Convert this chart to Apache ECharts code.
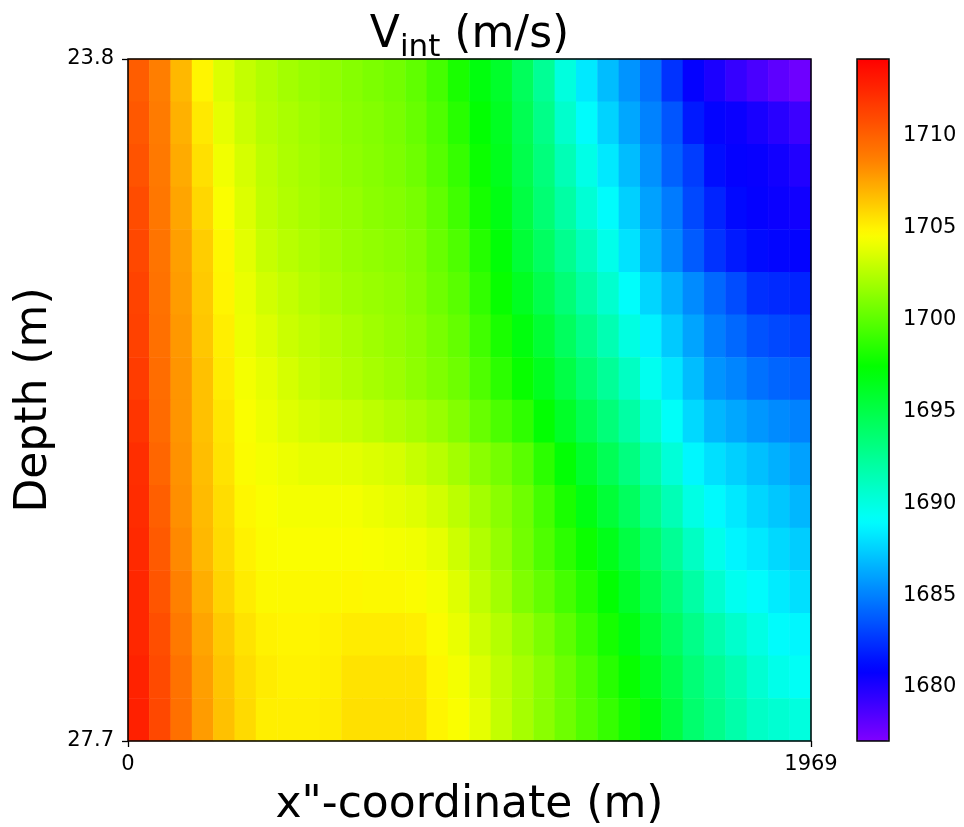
<!DOCTYPE html>
<html>
<head>
<meta charset="utf-8">
<title>Vint</title>
<script src="https://cdn.jsdelivr.net/npm/echarts@6/dist/echarts.min.js"></script>
<style>
html, body { margin: 0; padding: 0; background: #fff; }
#main { width: 964px; height: 827px; }
</style>
</head>
<body>
<div id="main"></div>
<script>
// cell centres (m)
var xCells = [31, 92, 154, 215, 277, 338, 400, 462, 523, 585, 646, 708, 769, 831, 892, 954,
  1015, 1077, 1138, 1200, 1261, 1323, 1384, 1446, 1508, 1569, 1631, 1692, 1754, 1815, 1877, 1938];
var depthCells = [23.92, 24.17, 24.41, 24.65, 24.90, 25.14, 25.38, 25.63,
  25.87, 26.11, 26.36, 26.60, 26.84, 27.09, 27.33, 27.58];

// interval velocity (m/s), one row per depth, top to bottom
var vRows = [
  [1710.2, 1708.8, 1706.9, 1704.9, 1703.6, 1702.9, 1702.4, 1702.0, 1701.7, 1701.5, 1701.2, 1700.9, 1700.6, 1700.1, 1699.3, 1698.1, 1697.0, 1696.0, 1694.4, 1692.5, 1690.1, 1688.3, 1686.9, 1685.6, 1684.5, 1682.5, 1680.8, 1680.1, 1679.3, 1678.7, 1678.1, 1677.6],
  [1710.4, 1708.9, 1707.1, 1705.3, 1703.9, 1703.1, 1702.5, 1702.2, 1701.9, 1701.6, 1701.3, 1701.1, 1700.8, 1700.3, 1699.6, 1698.5, 1697.4, 1696.3, 1694.7, 1692.9, 1690.7, 1689.0, 1687.6, 1686.2, 1685.0, 1683.6, 1681.7, 1680.9, 1680.6, 1680.2, 1679.7, 1679.1],
  [1710.6, 1709.0, 1707.3, 1705.6, 1704.2, 1703.4, 1702.7, 1702.3, 1702.0, 1701.7, 1701.4, 1701.2, 1700.9, 1700.5, 1699.8, 1698.9, 1697.7, 1696.5, 1694.9, 1693.3, 1691.4, 1689.8, 1688.3, 1686.9, 1685.5, 1684.0, 1682.8, 1681.3, 1680.8, 1680.7, 1680.4, 1679.9],
  [1710.9, 1709.1, 1707.5, 1705.9, 1704.5, 1703.6, 1702.8, 1702.4, 1702.1, 1701.8, 1701.6, 1701.3, 1701.1, 1700.8, 1700.1, 1699.2, 1698.0, 1696.8, 1695.2, 1693.6, 1692.0, 1690.4, 1689.0, 1687.5, 1686.0, 1684.8, 1683.2, 1682.0, 1681.1, 1680.8, 1680.6, 1680.4],
  [1711.1, 1709.2, 1707.7, 1706.2, 1704.8, 1703.8, 1703.0, 1702.6, 1702.3, 1702.0, 1701.7, 1701.5, 1701.3, 1701.0, 1700.3, 1699.6, 1698.4, 1697.2, 1695.6, 1694.2, 1692.7, 1691.2, 1689.7, 1688.1, 1686.6, 1685.2, 1683.8, 1682.5, 1681.7, 1681.2, 1681.0, 1680.9],
  [1711.3, 1709.3, 1707.8, 1706.3, 1704.9, 1704.0, 1703.3, 1702.9, 1702.5, 1702.2, 1701.9, 1701.7, 1701.5, 1701.1, 1700.5, 1699.9, 1698.8, 1697.6, 1696.3, 1694.9, 1693.5, 1692.0, 1690.6, 1689.1, 1687.7, 1686.5, 1685.3, 1684.2, 1683.3, 1682.4, 1682.2, 1682.0],
  [1711.4, 1709.4, 1707.9, 1706.4, 1705.1, 1704.1, 1703.6, 1703.1, 1702.8, 1702.5, 1702.2, 1701.9, 1701.6, 1701.3, 1700.8, 1700.2, 1699.2, 1698.1, 1697.0, 1695.7, 1694.3, 1692.9, 1691.5, 1690.0, 1688.6, 1687.3, 1686.1, 1684.9, 1684.2, 1683.5, 1683.2, 1682.9],
  [1711.6, 1709.5, 1708.0, 1706.6, 1705.2, 1704.3, 1703.9, 1703.4, 1703.0, 1702.7, 1702.4, 1702.1, 1701.8, 1701.4, 1701.0, 1700.5, 1699.6, 1698.6, 1697.6, 1696.4, 1695.1, 1693.7, 1692.4, 1691.0, 1689.5, 1688.2, 1686.9, 1685.6, 1685.1, 1684.5, 1684.1, 1683.9],
  [1711.9, 1709.6, 1708.0, 1706.6, 1705.4, 1704.5, 1704.1, 1703.7, 1703.4, 1703.2, 1703.0, 1702.7, 1702.4, 1702.1, 1701.7, 1701.1, 1700.3, 1699.5, 1698.7, 1697.4, 1696.1, 1694.7, 1693.4, 1692.0, 1690.6, 1689.2, 1687.8, 1686.7, 1686.2, 1685.7, 1685.3, 1685.0],
  [1712.2, 1709.8, 1708.1, 1706.7, 1705.5, 1704.6, 1704.3, 1704.1, 1703.9, 1703.9, 1703.8, 1703.6, 1703.4, 1703.0, 1702.6, 1702.0, 1701.3, 1700.7, 1699.9, 1698.6, 1697.3, 1695.9, 1694.6, 1693.2, 1691.8, 1690.3, 1688.8, 1688.0, 1687.5, 1687.0, 1686.5, 1686.0],
  [1712.3, 1710.1, 1708.2, 1706.8, 1705.7, 1704.8, 1704.5, 1704.3, 1704.3, 1704.3, 1704.3, 1704.1, 1703.9, 1703.7, 1703.3, 1702.7, 1702.0, 1701.3, 1700.5, 1699.3, 1698.1, 1696.8, 1695.6, 1694.3, 1692.8, 1691.4, 1689.9, 1688.9, 1688.3, 1687.7, 1687.2, 1686.7],
  [1712.4, 1710.3, 1708.4, 1706.9, 1705.8, 1705.0, 1704.6, 1704.5, 1704.5, 1704.5, 1704.5, 1704.4, 1704.3, 1704.2, 1703.9, 1703.2, 1702.4, 1701.6, 1700.6, 1699.6, 1698.6, 1697.7, 1696.6, 1695.2, 1693.9, 1692.5, 1691.0, 1689.7, 1688.7, 1688.3, 1687.8, 1687.4],
  [1712.5, 1710.5, 1708.7, 1707.2, 1706.0, 1705.2, 1704.7, 1704.7, 1704.7, 1704.7, 1704.8, 1704.7, 1704.7, 1704.6, 1704.3, 1703.7, 1702.8, 1702.0, 1701.0, 1700.2, 1699.3, 1698.4, 1697.4, 1696.1, 1694.8, 1693.4, 1692.0, 1690.6, 1689.5, 1689.0, 1688.4, 1688.0],
  [1712.5, 1710.8, 1709.0, 1707.5, 1706.3, 1705.5, 1705.0, 1704.9, 1704.9, 1705.0, 1705.2, 1705.2, 1705.2, 1705.1, 1704.6, 1704.0, 1703.2, 1702.5, 1701.7, 1700.9, 1700.0, 1699.0, 1698.0, 1696.9, 1695.6, 1694.2, 1692.9, 1691.7, 1690.7, 1689.9, 1689.0, 1688.8],
  [1712.7, 1711.0, 1709.3, 1707.7, 1706.5, 1705.7, 1705.2, 1705.0, 1705.0, 1705.1, 1705.5, 1705.5, 1705.5, 1705.5, 1704.8, 1704.3, 1703.6, 1702.8, 1702.1, 1701.3, 1700.4, 1699.5, 1698.5, 1697.6, 1696.3, 1694.9, 1693.5, 1692.5, 1691.5, 1690.5, 1689.7, 1689.3],
  [1712.8, 1711.1, 1709.4, 1707.8, 1706.6, 1705.8, 1705.1, 1705.1, 1705.1, 1705.2, 1705.6, 1705.6, 1705.6, 1705.6, 1704.9, 1704.5, 1703.9, 1702.9, 1702.1, 1701.3, 1700.5, 1699.7, 1698.9, 1698.0, 1696.9, 1695.3, 1693.8, 1692.8, 1691.8, 1690.9, 1690.5, 1690.1]
];

var xTicks = [0, 1969];
var depthTicks = [23.8, 27.7];
var cbarTicks = [1680, 1685, 1690, 1695, 1700, 1705, 1710];
var vMin = 1677.06;
var vMax = 1714.19;

// colour map: hue goes from violet (low) to red (high)
var cmapVals = [1677.06, 1680.9, 1689.0, 1697.4, 1704.6, 1708.7, 1714.19];
var cmapHues = [270, 240, 180, 120, 60, 30, 0];

function hueAt(v) {
  for (var k = 1; k < cmapVals.length; k++) {
    if (v <= cmapVals[k]) {
      var t = (v - cmapVals[k - 1]) / (cmapVals[k] - cmapVals[k - 1]);
      return cmapHues[k - 1] + t * (cmapHues[k] - cmapHues[k - 1]);
    }
  }
  return cmapHues[cmapHues.length - 1];
}

function hsvHex(h) {
  var x = 1 - Math.abs((h / 60) % 2 - 1);
  var s = Math.floor(h / 60) % 6;
  var rgb = [[1, x, 0], [x, 1, 0], [0, 1, x], [0, x, 1], [x, 0, 1], [1, 0, x]][s];
  return '#' + rgb.map(function (c) {
    var n = Math.round(c * 255).toString(16);
    return n.length < 2 ? '0' + n : n;
  }).join('');
}

var colors = [];
for (var k = 0; k <= 80; k++) {
  colors.push(hsvHex(hueAt(vMin + (vMax - vMin) * k / 80)));
}

var cells = [];
vRows.forEach(function (row, j) {
  row.forEach(function (v, i) {
    cells.push([i, j, v]);
  });
});

var font = 'DejaVu Sans';
var tickFont = { color: '#000', fontSize: 21, fontFamily: font };
var plain = function (v) { return String(v); };

var chart = echarts.init(document.getElementById('main'));
chart.setOption({
  animation: false,
  backgroundColor: '#fff',
  grid: [
    { left: 128, top: 59, width: 683, height: 682, show: true, z: 10, outerBoundsMode: 'none',
      backgroundColor: 'transparent', borderColor: '#000', borderWidth: 1.5 },
    { left: 857, top: 59, width: 32, height: 682, show: true, z: 10, outerBoundsMode: 'none',
      backgroundColor: 'transparent', borderColor: '#000', borderWidth: 1.5 }
  ],
  xAxis: [
    { type: 'category', gridIndex: 0, data: xCells, show: false },
    {
      type: 'value', gridIndex: 0, min: 0, max: 1969, position: 'bottom',
      name: 'x"-coordinate (m)', nameLocation: 'middle', nameGap: 43,
      nameTextStyle: { color: '#000', fontSize: 44, fontFamily: font },
      axisLine: { show: false },
      axisTick: { show: true, length: 6, customValues: xTicks, lineStyle: { color: '#000', width: 1.3 } },
      axisLabel: Object.assign({ margin: 13, customValues: xTicks, formatter: plain }, tickFont),
      splitLine: { show: false }
    },
    { type: 'value', gridIndex: 1, show: false }
  ],
  yAxis: [
    { type: 'category', gridIndex: 0, data: depthCells, inverse: true, show: false },
    {
      type: 'value', gridIndex: 0, min: 23.8, max: 27.7, inverse: true, position: 'left',
      name: 'Depth (m)', nameLocation: 'middle', nameGap: 70,
      nameTextStyle: { color: '#000', fontSize: 44, fontFamily: font },
      axisLine: { show: false },
      axisTick: { show: true, length: 6, customValues: depthTicks, lineStyle: { color: '#000', width: 1.3 } },
      axisLabel: Object.assign({
        margin: 14, customValues: depthTicks,
        formatter: function (v) { return v.toFixed(1); }
      }, tickFont),
      splitLine: { show: false }
    },
    {
      type: 'value', gridIndex: 1, min: vMin, max: vMax, position: 'right',
      axisLine: { show: false },
      axisTick: { show: true, length: 6, customValues: cbarTicks, lineStyle: { color: '#000', width: 1.3 } },
      axisLabel: Object.assign({ margin: 14, customValues: cbarTicks, formatter: plain }, tickFont),
      splitLine: { show: false }
    }
  ],
  visualMap: {
    type: 'continuous', seriesIndex: 0, min: vMin, max: vMax,
    calculable: false, hoverLink: false, orient: 'vertical',
    left: 857, top: 59, itemWidth: 32, itemHeight: 682, padding: 0,
    inRange: { color: colors }
  },
  graphic: [{
    type: 'text', x: 469.5, y: 14,
    style: {
      text: '{a|V}{b|int}{a| (m/s)}',
      align: 'center', verticalAlign: 'top',
      rich: {
        a: { fontSize: 44, fontFamily: font, fill: '#000', verticalAlign: 'bottom', padding: [0, 0, 5, 0] },
        b: { fontSize: 31, fontFamily: font, fill: '#000', verticalAlign: 'bottom' }
      }
    }
  }],
  series: [{
    type: 'heatmap', xAxisIndex: 0, yAxisIndex: 0,
    data: cells, progressive: 0,
    itemStyle: { borderWidth: 0 },
    emphasis: { disabled: true }
  }]
});
</script>
</body>
</html>
